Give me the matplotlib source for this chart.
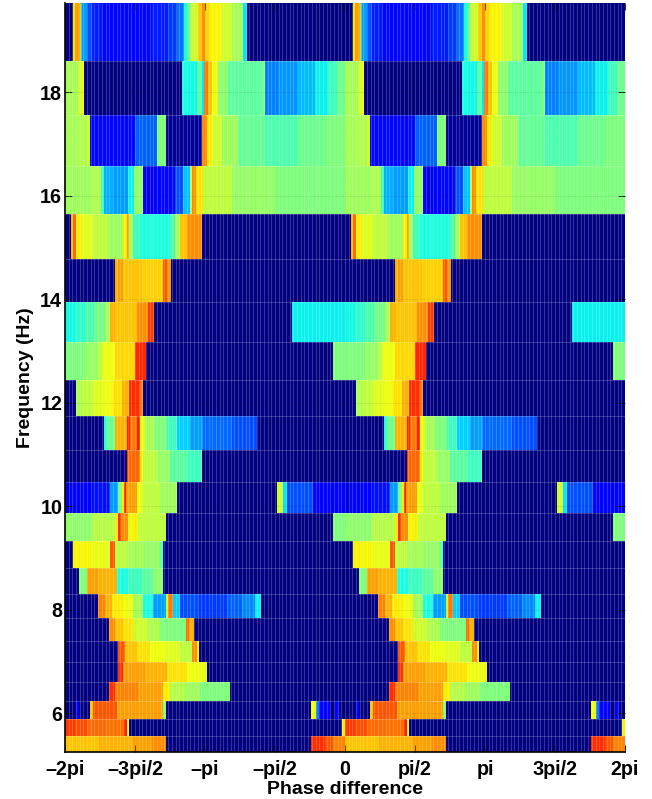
import numpy as np
import matplotlib
matplotlib.use('Agg')
import matplotlib.pyplot as plt

plt.rcParams['font.family'] = ['Liberation Sans', 'DejaVu Sans']

# === Data, rows from top to bottom ===
freq_edges = [19.73, 18.61, 17.57, 16.58, 15.65, 14.78, 13.95, 13.18, 12.44, 11.74, 11.09, 10.47,
              9.87, 9.33, 8.80, 8.30, 7.84, 7.39, 6.99, 6.60, 6.23, 5.88, 5.56, 5.25]

# one period (-2pi..0) split in 840 steps: where each run of a row ends
run_ends = [
    [23, 30, 38, 48, 52, 65, 80, 110, 190, 260, 310, 335, 358, 368, 378, 400, 410, 420, 435, 470, 500, 535, 545, 840],
    [40, 50, 58, 350, 365, 395, 410, 418, 428, 440, 458, 490, 590, 600, 640, 700, 750, 790, 815, 840],
    [40, 65, 75, 210, 275, 302, 410, 425, 440, 470, 520, 600, 700, 780, 840],
    [80, 108, 118, 145, 190, 208, 233, 270, 330, 355, 375, 382, 392, 415, 500, 630, 840],
    [17, 25, 33, 50, 85, 130, 175, 185, 193, 205, 225, 270, 315, 330, 345, 365, 410, 840],
    [150, 160, 175, 235, 295, 307, 318, 840],
    [30, 60, 90, 120, 135, 150, 215, 250, 267, 680, 840],
    [60, 100, 115, 150, 210, 243, 805, 840],
    [33, 50, 85, 115, 145, 170, 193, 225, 235, 840],
    [117, 125, 150, 185, 195, 217, 225, 240, 270, 305, 335, 375, 415, 500, 575, 840],
    [185, 190, 225, 235, 275, 315, 365, 410, 840],
    [15, 80, 135, 160, 170, 177, 183, 217, 235, 285, 335, 635, 653, 665, 745, 840],
    [80, 150, 160, 167, 190, 220, 302, 805, 840],
    [25, 80, 135, 150, 185, 235, 285, 295, 840],
    [43, 67, 100, 157, 190, 230, 265, 295, 840],
    [100, 120, 140, 175, 205, 235, 265, 302, 310, 325, 345, 400, 485, 530, 570, 587, 840],
    [133, 150, 175, 205, 245, 285, 362, 372, 387, 840],
    [158, 180, 215, 255, 300, 345, 380, 395, 403, 840],
    [158, 175, 240, 305, 365, 427, 840],
    [133, 150, 220, 295, 315, 360, 405, 495, 840],
    [33, 43, 75, 85, 155, 295, 303, 738, 753, 763, 795, 810, 823, 840],
    [30, 65, 120, 177, 185, 193, 830, 840],
    [100, 205, 260, 302, 738, 780, 805, 840],
]

run_levels = [
    [0, .66, .75, .72, .35, .28, .2, .15, .13, .13, .15, .18, .24, .38, .5, .6, .7, .76, .68, .65, .6, .55, .35, 0],
    [.55, .6, .65, 0, .38, .37, .45, .35, .78, .7, .64, .52, .46, .5, .25, .27, .31, .36, .42, .48],
    [.55, .56, .6, .13, .22, .5, .02, .76, .66, .6, .54, .47, .44, .48, .5],
    [.54, .56, .42, .3, .28, .36, .53, .1, .13, .2, .32, .58, .76, .67, .58, .53, .5],
    [0, .72, .8, .66, .62, .58, .54, .66, .74, .55, .42, .38, .38, .44, .55, .7, .76, 0],
    [0, .72, .74, .7, .69, .82, .75, 0],
    [.37, .4, .44, .49, .55, .72, .7, .76, .85, 0, .36],
    [.5, .53, .58, .64, .68, .87, 0, .5],
    [0, .56, .58, .62, .64, .67, .72, .86, .78, 0],
    [0, .4, .48, .72, .88, .78, .88, .63, .55, .5, .42, .33, .28, .23, .2, 0],
    [0, .86, .8, .66, .58, .53, .46, .42, 0],
    [.08, .12, .14, .28, .5, .65, .88, .74, .63, .58, .54, 0, .6, .35, .2, .12],
    [.52, .57, .66, .86, .76, .65, .58, 0, .5],
    [0, .65, .63, .82, .58, .55, .53, .45, 0],
    [0, .5, .74, .72, .38, .42, .46, .52, 0],
    [0, .77, .72, .66, .64, .55, .38, .28, .6, .78, .33, .2, .18, .22, .26, .36, 0],
    [0, .76, .7, .67, .6, .56, .5, .8, .72, 0],
    [0, .82, .7, .67, .64, .62, .58, .76, .65, 0],
    [0, .86, .74, .72, .67, .64, 0],
    [0, .86, .77, .74, .66, .57, .54, .5, 0],
    [0, .12, 0, .7, .82, .74, .5, 0, .64, .25, .12, 0, .12, 0],
    [.85, .83, .8, .79, .88, .62, 0, .65],
    [.7, .72, .74, .76, 0, .86, .82, .77],
]

tick_labels = ['\u20132pi', '\u20133pi/2', '\u2013pi', '\u2013pi/2', '0', 'pi/2', 'pi', '3pi/2', '2pi']

# === Build the matrix, the period is shown twice ===
n_steps = 840
rows = []
for ends, levels in zip(run_ends, run_levels):
    counts = np.diff([0] + ends)
    rows.append(np.repeat(levels, counts))
Z = np.hstack([np.array(rows), np.array(rows)])
phase = np.linspace(-2 * np.pi, 2 * np.pi, 2 * n_steps + 1)

# === Plotting ===
fig = plt.figure(figsize=(6.52, 7.99), dpi=100)
ax = fig.add_axes([65 / 652, 1 - 752 / 799, 560 / 652, 749 / 799])
ax.pcolormesh(phase, freq_edges, Z, cmap='jet', vmin=0, vmax=1, shading='flat', rasterized=True)

# thin light seams of the original mesh
ax.vlines(np.arange(-2 * np.pi, 2 * np.pi, 4 * np.pi / 152), 5.25, 19.73, color='white', lw=0.8, alpha=0.2)
ax.hlines(freq_edges[1:-1], -2 * np.pi, 2 * np.pi, color='white', lw=0.7, alpha=0.2)

ax.set_xlim(-2 * np.pi, 2 * np.pi)
ax.set_ylim(5.25, 19.73)
ax.set_xticks(np.arange(-4, 5) * np.pi / 2)
ax.set_xticklabels(tick_labels)
ax.set_yticks([6, 8, 10, 12, 14, 16, 18])
ax.tick_params(direction='in', length=5, width=0.6, top=True, right=True, labelsize=14.2)
ax.tick_params(axis='x', pad=6)
ax.tick_params(axis='y', pad=2)
for label in ax.get_xticklabels() + ax.get_yticklabels():
    label.set_fontweight('bold')
ax.grid(True, ls=':', lw=0.5, color='black', alpha=0.25)
ax.set_xlabel('Phase difference', fontsize=14, fontweight='bold', labelpad=1.5)
ax.set_ylabel('Frequency (Hz)', fontsize=14, fontweight='bold')
ax.yaxis.set_label_coords(-0.056, 0.5)
ax.spines['top'].set_visible(False)
ax.spines['right'].set_visible(False)
ax.spines['left'].set_linewidth(1.2)
ax.spines['bottom'].set_linewidth(1.2)

fig.savefig('out.png', dpi=100)
